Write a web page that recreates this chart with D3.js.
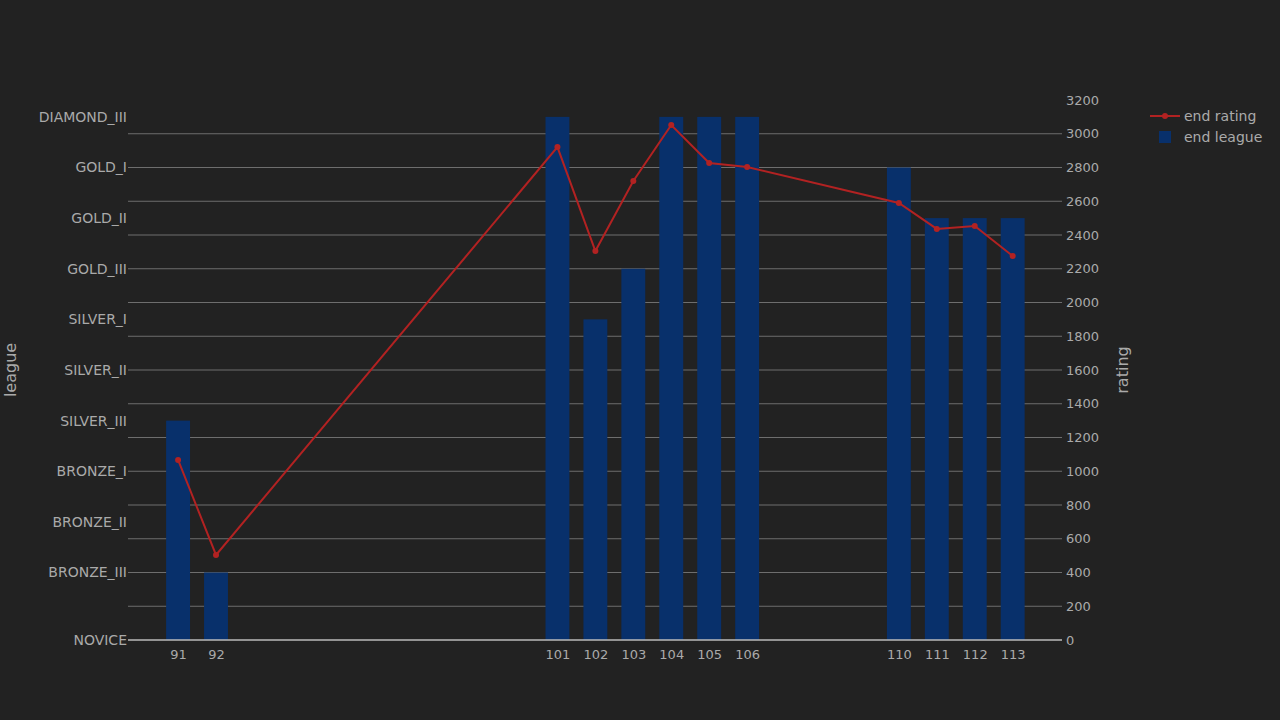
<!DOCTYPE html>
<html>
<head>
<meta charset="utf-8">
<script src="https://cdn.jsdelivr.net/npm/d3@7"></script>
<style>
  body { margin: 0; background: #222222; }
  text { font-family: "DejaVu Sans", sans-serif; }
</style>
</head>
<body>
<svg id="canvas"></svg>
<script>
const games = [91, 92, 101, 102, 103, 104, 105, 106, 110, 111, 112, 113];
const endLeague = ["SILVER_III", "BRONZE_III", "DIAMOND_III", "SILVER_I", "GOLD_III", "DIAMOND_III",
    "DIAMOND_III", "DIAMOND_III", "GOLD_I", "GOLD_II", "GOLD_II", "GOLD_II"];
const endRating = [1067, 504, 2921, 2305, 2720, 3052, 2827, 2803, 2590, 2436, 2453, 2276];
const leagues = ["NOVICE", "BRONZE_III", "BRONZE_II", "BRONZE_I", "SILVER_III", "SILVER_II",
    "SILVER_I", "GOLD_III", "GOLD_II", "GOLD_I", "DIAMOND_III"];
const ratingTicks = d3.range(0, 3201, 200);

const W = 1280, H = 720;
const margins = { top: 100, right: 218, bottom: 80, left: 128 };
const width = W - margins.left - margins.right;
const height = H - margins.top - margins.bottom;
const textColor = "#aaaaaa";

const svg = d3.select("#canvas").attr("width", W).attr("height", H);
const g = svg.append("g").attr("transform", `translate(${margins.left},${margins.top})`);

const x = d3.scaleLinear().domain([89.68, 114.3]).range([0, width]);
const yR = d3.scaleLinear().domain([0, 3200]).range([height, 0]);
// league position: NOVICE sits on the baseline, others every 300 rating-equivalent from 400
const leagueY = name => {
    const i = leagues.indexOf(name);
    return i === 0 ? yR(0) : yR(100 + 300 * i);
};

// grid
g.append("g").selectAll("line").data(ratingTicks.filter(d => d > 0 && d < 3200)).enter()
    .append("line")
    .attr("x1", 0).attr("x2", width)
    .attr("y1", d => yR(d)).attr("y2", d => yR(d))
    .attr("stroke", "#6e6e6e").attr("stroke-width", 1);

// bars
const bw = x(91.63) - x(91);
g.append("g").selectAll("rect").data(games).enter()
    .append("rect")
    .attr("x", (d) => x(d) - bw / 2)
    .attr("width", bw)
    .attr("y", (d, i) => leagueY(endLeague[i]))
    .attr("height", (d, i) => yR(0) - leagueY(endLeague[i]))
    .attr("fill", "#08306b");

// baseline
g.append("line").attr("x1", 0).attr("x2", width).attr("y1", height).attr("y2", height)
    .attr("stroke", "#bbbbbb").attr("stroke-width", 1.5);

// line
const line = d3.line().x((d, i) => x(games[i])).y(d => yR(d));
g.append("path").datum(endRating).attr("d", line)
    .attr("fill", "none").attr("stroke", "#b22222").attr("stroke-width", 2);
g.append("g").selectAll("circle").data(endRating).enter()
    .append("circle")
    .attr("cx", (d, i) => x(games[i])).attr("cy", d => yR(d)).attr("r", 3)
    .attr("fill", "#b22222");

// axes
const styleAxis = sel => {
    sel.select(".domain").remove();
    sel.selectAll("line").remove();
    sel.selectAll("text").attr("fill", textColor).style("font-size", "13px");
};
g.append("g").attr("transform", `translate(0,${height})`)
    .call(d3.axisBottom(x).tickValues(games).tickFormat(d3.format("d")).tickSize(0).tickPadding(10))
    .call(styleAxis);
g.append("g").attr("transform", `translate(${width},0)`)
    .call(d3.axisRight(yR).tickValues(ratingTicks).tickSize(0).tickPadding(4).tickFormat(d3.format("d")))
    .call(styleAxis);
const leftAxis = g.append("g");
leftAxis.selectAll("text").data(leagues).enter()
    .append("text")
    .attr("x", -1).attr("y", d => leagueY(d)).attr("dy", "0.35em")
    .attr("text-anchor", "end").attr("fill", textColor).style("font-size", "14px")
    .text(d => d);

// axis titles
svg.append("text").attr("transform", `translate(16,${margins.top + height / 2}) rotate(-90)`)
    .attr("text-anchor", "middle").attr("fill", textColor).style("font-size", "16px").text("league");
svg.append("text").attr("transform", `translate(1128,${margins.top + height / 2}) rotate(-90)`)
    .attr("text-anchor", "middle").attr("fill", textColor).style("font-size", "16px").text("rating");

// legend
const lg = svg.append("g").attr("transform", "translate(1150,116)");
lg.append("line").attr("x1", 0).attr("x2", 30).attr("y1", 0).attr("y2", 0)
    .attr("stroke", "#b22222").attr("stroke-width", 2);
lg.append("circle").attr("cx", 15).attr("cy", 0).attr("r", 3).attr("fill", "#b22222");
lg.append("text").attr("x", 34).attr("y", 0).attr("dy", "0.35em").attr("fill", textColor)
    .style("font-size", "14px").text("end rating");
lg.append("rect").attr("x", 9).attr("y", 15).attr("width", 12).attr("height", 12).attr("fill", "#08306b");
lg.append("text").attr("x", 34).attr("y", 21).attr("dy", "0.35em").attr("fill", textColor)
    .style("font-size", "14px").text("end league");
</script>
</body>
</html>
